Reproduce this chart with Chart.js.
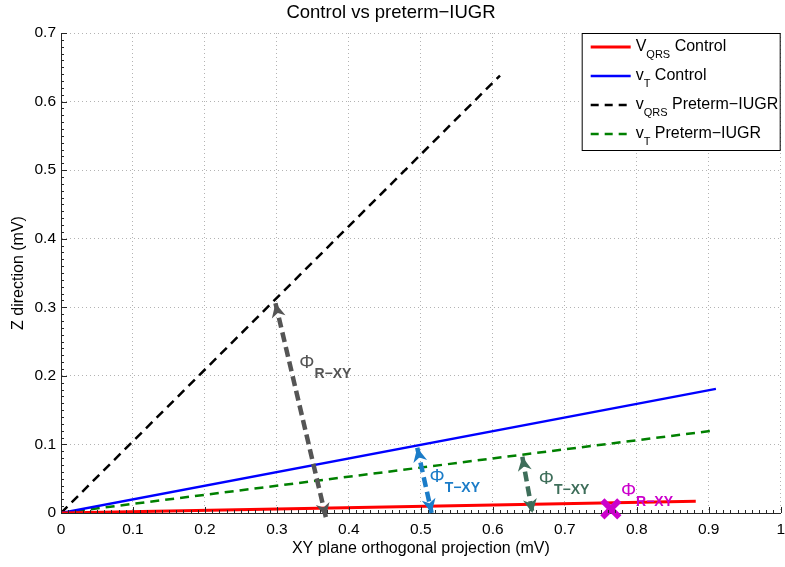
<!DOCTYPE html>
<html>
<head>
<meta charset="utf-8">
<script src="https://cdn.jsdelivr.net/npm/chart.js@4.4.1/dist/chart.umd.min.js"></script>
<style>
  html, body { margin: 0; padding: 0; background: #fff; }
  #wrap { width: 785px; height: 567px; }
</style>
</head>
<body>
<div id="wrap"><canvas id="chart" width="785" height="567"></canvas></div>
<script>
// line end points (mV), all lines start at the origin
var qrsCtrlX = [0, 0.882], qrsCtrlY = [0, 0.017];
var tCtrlX   = [0, 0.910], tCtrlY   = [0, 0.181];
var qrsIugrX = [0, 0.610], qrsIugrY = [0, 0.638];
var tIugrX   = [0, 0.905], tIugrY   = [0, 0.120];

// angle arrows (both ends)
var phiRX  = [0.298, 0.368], phiRY  = [0.306, -0.006];
var phiTcX = [0.495, 0.515], phiTcY = [0.095, 0.000];
var phiTiX = [0.641, 0.655], phiTiY = [0.082, 0.000];
// marker for the control R angle
var markX = [0.764], markY = [0.006];

var xTicks = [0, 0.1, 0.2, 0.3, 0.4, 0.5, 0.6, 0.7, 0.8, 0.9, 1];
var yTicks = [0, 0.1, 0.2, 0.3, 0.4, 0.5, 0.6, 0.7];

var legMain = ['V', 'v', 'v', 'v'];
var legSub  = ['QRS', 'T', 'QRS', 'T'];
var legTail = [' Control', ' Control', ' Preterm\u2212IUGR', ' Preterm\u2212IUGR'];

var FONT = "'Liberation Sans', Arial, Helvetica, sans-serif";

function pts(xs, ys) {
  return xs.map(function (x, i) { return {x: x, y: ys[i]}; });
}

function line(label, xs, ys, color, width, dash, order) {
  return {
    label: label, data: pts(xs, ys), showLine: true,
    borderColor: color, backgroundColor: color, borderWidth: width,
    borderDash: dash, pointRadius: 0, order: order, borderCapStyle: 'butt'
  };
}

var datasets = [
  line('vqrs control', qrsCtrlX, qrsCtrlY, '#ff0000', 3, [], 3),
  line('vt control', tCtrlX, tCtrlY, '#0000ff', 2.5, [], 4),
  line('vqrs iugr', qrsIugrX, qrsIugrY, '#000000', 2.5, [9, 6], 6),
  line('vt iugr', tIugrX, tIugrY, '#008000', 2.5, [9, 6], 5)
];
[
  line('phiR', phiRX, phiRY, '#555555', 4.5, [10, 5], 1),
  line('phiTc', phiTcX, phiTcY, '#1b7cc8', 4.5, [10, 5], 1),
  line('phiTi', phiTiX, phiTiY, '#3e6e5a', 4.5, [10, 5], 1)
].forEach(function (ds) { ds.arrowHeads = true; ds.clip = false; datasets.push(ds); });
datasets.push({
  label: 'mark', data: pts(markX, markY), showLine: false, clip: false,
  pointStyle: 'crossRot', pointRadius: 12, pointBorderWidth: 6,
  borderColor: '#cc00cc', backgroundColor: '#cc00cc', order: 0
});

// text labels next to the arrows: [x, y, sub, colour]
var phiLabels = [
  [0.331, 0.220, 'R\u2212XY', '#555555'],
  [0.512, 0.054, 'T\u2212XY', '#1b7cc8'],
  [0.664, 0.051, 'T\u2212XY', '#3e6e5a'],
  [0.778, 0.034, 'R\u2212XY', '#cc00cc']
];

var extras = {
  id: 'extras',
  afterDatasetsDraw: function (chart) {
    var ctx = chart.ctx;
    // arrow heads
    chart.data.datasets.forEach(function (ds, i) {
      if (!ds.arrowHeads) return;
      var m = chart.getDatasetMeta(i).data;
      var a = m[0], b = m[m.length - 1];
      [[a, b], [b, a]].forEach(function (p) {
        var tip = p[0], from = p[1];
        var ang = Math.atan2(tip.y - from.y, tip.x - from.x);
        ctx.save();
        ctx.translate(tip.x, tip.y);
        ctx.rotate(ang);
        ctx.fillStyle = ds.borderColor;
        ctx.beginPath();
        ctx.moveTo(0, 0);
        ctx.lineTo(-14, -7);
        ctx.lineTo(-10, 0);
        ctx.lineTo(-14, 7);
        ctx.closePath();
        ctx.fill();
        ctx.restore();
      });
    });
    // phi labels
    var xs = chart.scales.x, ys = chart.scales.y;
    phiLabels.forEach(function (l) {
      var px = xs.getPixelForValue(l[0]), py = ys.getPixelForValue(l[1]);
      ctx.save();
      ctx.fillStyle = l[3];
      ctx.textBaseline = 'alphabetic';
      ctx.textAlign = 'left';
      ctx.font = '19px ' + FONT;
      ctx.fillText('\u03A6', px, py + 6);
      var w = ctx.measureText('\u03A6').width;
      ctx.font = 'bold 14px ' + FONT;
      ctx.fillText(l[2], px + w, py + 16);
      ctx.restore();
    });
  },
  afterDraw: function (chart) {
    var ctx = chart.ctx, area = chart.chartArea;
    var xs = chart.scales.x, ys = chart.scales.y;
    ctx.save();
    ctx.strokeStyle = '#262626';
    ctx.lineWidth = 1;
    ctx.beginPath();
    // inward ticks, major and minor
    for (var k = 0; k <= 100; k++) {
      var v = k / 100, len = (k % 10 === 0) ? 6 : 3;
      var px = Math.round(xs.getPixelForValue(v)) + 0.5;
      ctx.moveTo(px, area.bottom);
      ctx.lineTo(px, area.bottom - len);
      if (k <= 70) {
        var py = Math.round(ys.getPixelForValue(v)) + 0.5;
        ctx.moveTo(area.left, py);
        ctx.lineTo(area.left + len, py);
      }
    }
    ctx.stroke();
    ctx.restore();

    // legend box
    var bw = 198, bh = 117;
    var bx = area.right - bw - 1, by = area.top;
    ctx.save();
    ctx.fillStyle = '#fff';
    ctx.fillRect(bx, by, bw, bh);
    ctx.strokeStyle = '#000';
    ctx.lineWidth = 1;
    ctx.strokeRect(bx + 0.5, by + 0.5, bw, bh);
    for (var i = 0; i < 4; i++) {
      var ds = chart.data.datasets[i];
      var ry = by + 14 + i * 29;
      ctx.beginPath();
      ctx.strokeStyle = ds.borderColor;
      ctx.lineWidth = ds.borderWidth;
      ctx.setLineDash(ds.borderDash.length ? [8, 6] : []);
      ctx.moveTo(bx + 9, ry);
      ctx.lineTo(bx + 49, ry);
      ctx.stroke();
      ctx.setLineDash([]);
      ctx.fillStyle = '#000';
      ctx.textBaseline = 'alphabetic';
      ctx.font = '16px ' + FONT;
      var tx = bx + 54;
      ctx.fillText(legMain[i], tx, ry + 4);
      tx += ctx.measureText(legMain[i]).width;
      ctx.font = '11px ' + FONT;
      ctx.fillText(legSub[i], tx, ry + 11);
      tx += ctx.measureText(legSub[i]).width;
      ctx.font = '16px ' + FONT;
      ctx.fillText(legTail[i], tx, ry + 4);
    }
    ctx.restore();
  }
};

var tickFont = {family: FONT, size: 15.5};

new Chart(document.getElementById('chart').getContext('2d'), {
  type: 'scatter',
  data: {datasets: datasets},
  options: {
    responsive: false,
    animation: false,
    events: [],
    layout: {autoPadding: false, padding: {left: 0, right: 3, top: 0, bottom: 0}},
    plugins: {
      legend: {display: false},
      tooltip: {enabled: false},
      title: {
        display: true, text: 'Control vs preterm\u2212IUGR', color: '#000',
        font: {family: FONT, size: 18.5, weight: 'normal'},
        padding: {top: 2, bottom: 8.8}
      }
    },
    scales: {
      x: {
        type: 'linear', min: 0, max: 1,
        afterBuildTicks: function (s) { s.ticks = xTicks.map(function (v) { return {value: v}; }); },
        afterFit: function (s) { s.height = 54; },
        ticks: {color: '#000', font: tickFont, padding: 0, maxRotation: 0,
          callback: function (v) { return String(+v.toFixed(1)); }},
        grid: {color: '#b3b3b3', drawTicks: true, tickLength: 7, tickColor: 'rgba(0,0,0,0)', lineWidth: 1},
        border: {display: true, color: '#262626', width: 1, dash: [1, 3]},
        title: {display: true, text: 'XY plane orthogonal projection (mV)', color: '#000',
          font: {family: FONT, size: 16}, padding: {top: 0, bottom: 8.5}}
      },
      y: {
        type: 'linear', min: 0, max: 0.7,
        afterBuildTicks: function (s) { s.ticks = yTicks.map(function (v) { return {value: v}; }); },
        afterFit: function (s) { s.width = 61; },
        ticks: {color: '#000', font: tickFont, padding: 5,
          callback: function (v) { return String(+v.toFixed(1)); }},
        grid: {color: '#b3b3b3', drawTicks: false, lineWidth: 1},
        border: {display: true, color: '#262626', width: 1, dash: [1, 3]},
        title: {display: true, text: 'Z direction (mV)', color: '#000',
          font: {family: FONT, size: 16}, padding: {top: 9, bottom: 0}}
      }
    }
  },
  plugins: [extras]
});
</script>
</body>
</html>
